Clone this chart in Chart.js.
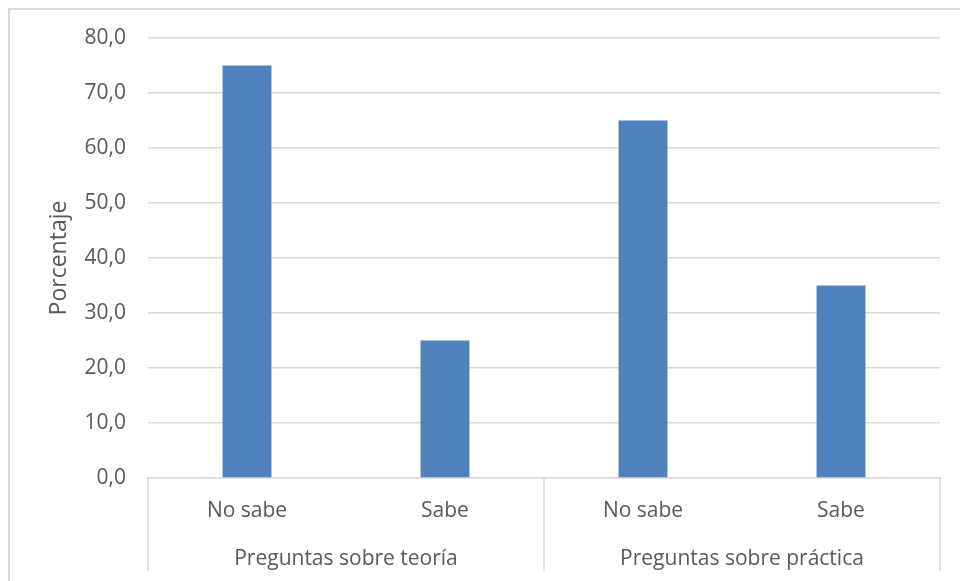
<!DOCTYPE html>
<html>
<head>
<meta charset="utf-8">
<script src="https://cdn.jsdelivr.net/npm/chart.js@4"></script>
<style>
  html, body { margin: 0; padding: 0; background: #fff; }
  .wrap { position: relative; width: 960px; height: 581px; }
  .frame {
    position: absolute; left: 8px; top: 8px; right: -5px; bottom: -5px;
    border-left: 2px solid #d9d9d9; border-top: 2px solid #d9d9d9;
  }
  canvas { position: absolute; left: 0; top: 0; }
</style>
</head>
<body>
<div class="wrap">
  <div class="frame"></div>
  <canvas id="grafico" width="960" height="581"></canvas>
</div>
<script>
// categorías y grupos del eje x
const respuestas = ['No sabe', 'Sabe', 'No sabe', 'Sabe']
const grupos = ['Preguntas sobre teoría', 'Preguntas sobre práctica']
// porcentajes
const porcentajes = [75, 25, 65, 35]
const marcasY = [0, 10, 20, 30, 40, 50, 60, 70, 80]

const gris = '#d9d9d9'
const texto = '#595959'
const fuente = { family: "'Open Sans', sans-serif", size: 21 }

// líneas verticales que separan los dos grupos bajo el eje
const separadores = {
    id: 'separadores',
    afterDraw(chart) {
        const x = chart.scales.x
        const x2 = chart.scales.x2
        const medio = (x.getPixelForValue(1) + x.getPixelForValue(2)) / 2
        const ctx = chart.ctx
        ctx.save()
        ctx.strokeStyle = gris
        ctx.lineWidth = 1.5
        ;[x.left, medio, x.right].forEach(px => {
            ctx.beginPath()
            ctx.moveTo(px, x.top)
            ctx.lineTo(px, x2.bottom - 10)
            ctx.stroke()
        })
        ctx.restore()
    }
}

new Chart(document.getElementById('grafico'), {
    type: 'bar',
    data: {
        labels: respuestas,
        datasets: [{
            data: porcentajes,
            backgroundColor: '#4f81bd',
            categoryPercentage: 1,
            barPercentage: 0.247
        }]
    },
    options: {
        responsive: false,
        animation: false,
        layout: { padding: { top: 38, right: 20, left: 0, bottom: 0 } },
        plugins: {
            legend: { display: false },
            tooltip: { enabled: false }
        },
        scales: {
            y: {
                min: 0,
                max: 80,
                afterBuildTicks: s => { s.ticks = marcasY.map(v => ({ value: v })) },
                afterFit: s => { s.width = 148 },
                border: { display: false },
                grid: { color: gris, lineWidth: 1.5, drawTicks: false },
                ticks: {
                    color: texto,
                    font: fuente,
                    padding: 22,
                    callback: v => v.toFixed(1).replace('.', ',')
                },
                title: {
                    display: true,
                    text: 'Porcentaje',
                    color: texto,
                    font: { family: fuente.family, size: 23 },
                    padding: { top: 46, bottom: 0 }
                }
            },
            x: {
                afterFit: s => { s.height = 56 },
                border: { color: gris, width: 1.5 },
                grid: { display: false },
                ticks: { color: texto, font: fuente, padding: 12, maxRotation: 0 }
            },
            x2: {
                type: 'category',
                position: 'bottom',
                labels: grupos,
                afterFit: s => { s.height = 581 - 478 - 56 },
                border: { display: false },
                grid: { display: false },
                ticks: { color: texto, font: fuente, padding: 4, maxRotation: 0 }
            }
        }
    },
    plugins: [separadores]
})
</script>
</body>
</html>
